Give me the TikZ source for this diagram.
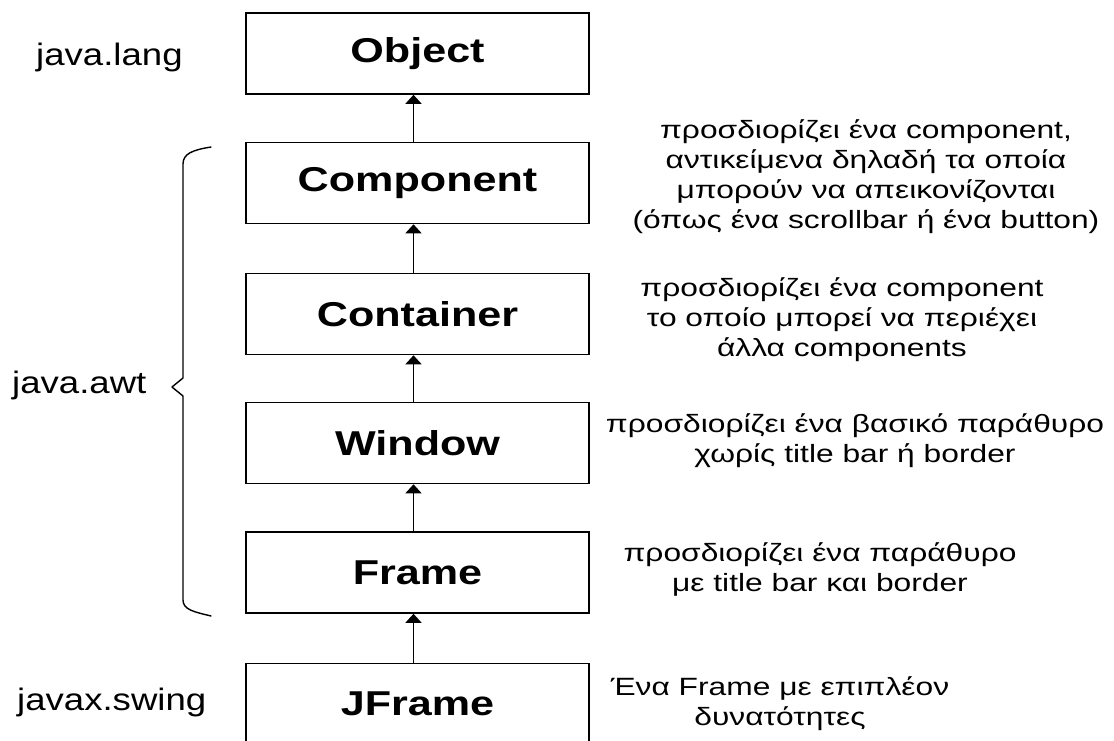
\documentclass[tikz,border=0pt]{standalone}
\usepackage{fontspec}
\setmainfont{Liberation Sans}
\newfontfamily\widefont[FakeStretch=1.25]{Liberation Sans}
\newfontfamily\notefont[FakeStretch=1.27]{Liberation Sans}
\newfontfamily\pkgfont[FakeStretch=1.18]{Liberation Sans}
\usetikzlibrary{arrows.meta}

\begin{document}
\begin{tikzpicture}[x=1pt,y=-1pt,
  classbox/.style={draw, line width=1.6pt, minimum width=343pt, minimum height=81pt,
    inner sep=0pt, font=\widefont\bfseries\fontsize{34.5}{38}\selectfont},
  pkglabel/.style={anchor=base west, inner sep=0pt, font=\pkgfont\fontsize{31}{34}\selectfont},
  note/.style={align=center, inner sep=0pt, font=\notefont\fontsize{25}{30}\selectfont},
  inherit/.style={-{Triangle[width=16pt,length=9pt]}, line width=1.6pt},
  bracepath/.style={line width=1.4pt, line cap=round, line join=round}]

  \clip (0,0) rectangle (1114,740);
  \fill[white] (0,0) rectangle (1114,740);

  % class hierarchy
  \node[classbox] (object)    at (417.5,53.5) {Object};
  \node[classbox] (component) at (417.5,183)  {Component};
  \node[classbox] (container) at (417.5,314)  {Container};
  \node[classbox] (window)    at (417.5,443)  {Window};
  \node[classbox] (frame)     at (417.5,572.5){Frame};
  \node[classbox] (jframe)    at (417.5,704)  {JFrame};

  % inheritance arrows
  \foreach \sub/\super in {component/object, container/component, window/container,
                           frame/window, jframe/frame}
    \draw[inherit] ([xshift=-4pt]\sub.north) -- ([xshift=-4pt]\super.south);

  % package labels
  \node[pkglabel] (lang)  at (36,65)  {java.lang};
  \node[pkglabel] (awt)   at (12,393) {java.awt};
  \node[pkglabel] (swing) at (17,710) {javax.swing};

  % brace grouping the java.awt classes
  \coordinate (bracetop) at (211,147);
  \coordinate (bracetip) at (172,387);
  \coordinate (bracebot) at (211,616);
  \draw[bracepath] (bracetop) .. controls (192,150) and (183,154) .. (183,164)
    -- (183,378) -- (bracetip) -- (183,396) -- (183,600)
    .. controls (183,610) and (195,612) .. (bracebot);

  % descriptions
  \node[note] (dcomponent) at (866,177) {προσδιορίζει ένα component,\\
    αντικείμενα δηλαδή τα οποία\\ μπορούν να απεικονίζονται\\
    (όπως ένα scrollbar ή ένα button)};
  \node[note] (dcontainer) at (842,320) {προσδιορίζει ένα component\\
    το οποίο μπορεί να περιέχει\\ άλλα components};
  \node[note] (dwindow) at (855,441) {προσδιορίζει ένα βασικό παράθυρο\\
    χωρίς title bar ή border};
  \node[note] (dframe) at (820,569) {προσδιορίζει ένα παράθυρο\\
    με title bar και border};
  \node[note] (djframe) at (780,704) {Ένα Frame με επιπλέον\\ δυνατότητες};
\end{tikzpicture}
\end{document}
